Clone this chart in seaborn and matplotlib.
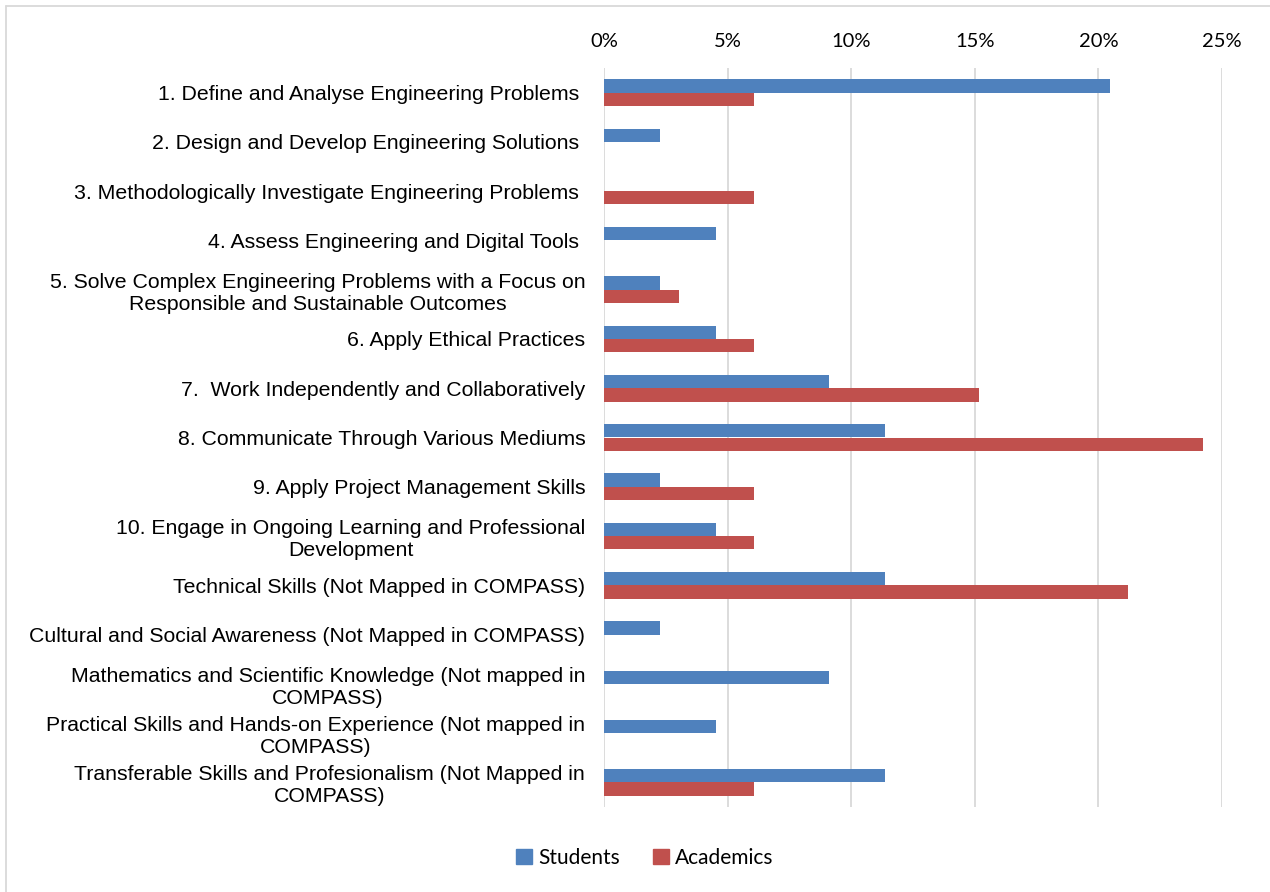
import matplotlib
matplotlib.use("Agg")
import matplotlib.pyplot as plt
import matplotlib.patches as mpatches
from matplotlib.lines import Line2D
import seaborn as sns
import pandas as pd

categories = [
    "1. Define and Analyse Engineering Problems ",
    "2. Design and Develop Engineering Solutions ",
    "3. Methodologically Investigate Engineering Problems ",
    "4. Assess Engineering and Digital Tools ",
    "5. Solve Complex Engineering Problems with a Focus on\nResponsible and Sustainable Outcomes",
    "6. Apply Ethical Practices",
    "7.  Work Independently and Collaboratively",
    "8. Communicate Through Various Mediums",
    "9. Apply Project Management Skills",
    "10. Engage in Ongoing Learning and Professional\nDevelopment",
    "Technical Skills (Not Mapped in COMPASS)",
    "Cultural and Social Awareness (Not Mapped in COMPASS)",
    "Mathematics and Scientific Knowledge (Not mapped in\nCOMPASS)",
    "Practical Skills and Hands-on Experience (Not mapped in\nCOMPASS)",
    "Transferable Skills and Profesionalism (Not Mapped in\nCOMPASS)",
]
students = [20.45, 2.27, 0.0, 4.55, 2.27, 4.55, 9.09, 11.36, 2.27, 4.55, 11.36, 2.27, 9.09, 4.55, 11.36]
academics = [6.06, 0.0, 6.06, 0.0, 3.03, 6.06, 15.15, 24.24, 6.06, 6.06, 21.21, 0.0, 0.0, 0.0, 6.06]
series_names = ["Students", "Academics"]
xticks = [0, 5, 10, 15, 20, 25]

df = pd.DataFrame({
    "category": categories * 2,
    "value": students + academics,
    "series": [series_names[0]] * len(categories) + [series_names[1]] * len(categories),
})

palette = {"Students": "#4F81BD", "Academics": "#C0504D"}

sns.set_style("white")
plt.rcParams["font.family"] = ["Liberation Sans", "DejaVu Sans"]
plt.rcParams["text.color"] = "black"
plt.rcParams["xtick.color"] = "black"
plt.rcParams["ytick.color"] = "black"

W, H = 1270, 892
fig = plt.figure(figsize=(W / 100, H / 100), dpi=100)
ax = fig.add_axes([604 / W, 1 - 807 / H, (1222 - 604) / W, (807 - 68) / H])

sns.barplot(data=df, y="category", x="value", hue="series", orient="h",
            palette=palette, width=0.54, ax=ax, legend=False,
            linewidth=0, saturation=1)

ax.set_xlim(0, 25)
ax.set_xticks(xticks)
ax.set_xticklabels([f"{t}%" for t in xticks], fontsize=14.5, family=["Lato", "DejaVu Sans"], color="#000000")
ax.xaxis.tick_top()
ax.tick_params(axis="x", length=0, pad=13)
ax.tick_params(axis="y", length=0, pad=13.5, labelsize=15.3, labelcolor="black")
for lbl in ax.get_yticklabels():
    lbl.set_multialignment("center")
ax.set_xlabel("")
ax.set_ylabel("")
ax.grid(axis="x", color="#D9D9D9", linewidth=1.3)
ax.set_axisbelow(True)
for s in ax.spines.values():
    s.set_visible(False)

# outer chart border (top and left visible)
fig.add_artist(Line2D([6 / W, 1.0], [1 - 6 / H, 1 - 6 / H], transform=fig.transFigure,
                      color="#D9D9D9", linewidth=1.3))
fig.add_artist(Line2D([6 / W, 6 / W], [0.0, 1 - 6 / H], transform=fig.transFigure,
                      color="#D9D9D9", linewidth=1.3))

handles = [mpatches.Patch(color=palette[n], label=n) for n in series_names]
fig.legend(handles=handles, loc="center", bbox_to_anchor=(645 / W, 1 - 858 / H), ncol=2,
           frameon=False, handlelength=0.75, handleheight=0.75, handletextpad=0.3,
           columnspacing=1.6, labelcolor="black",
           prop={"family": ["Lato", "DejaVu Sans"], "size": 15})

fig.savefig("out.png", dpi=100)
